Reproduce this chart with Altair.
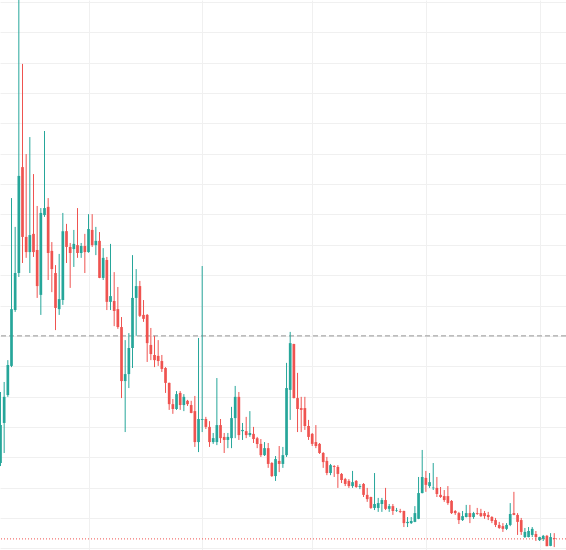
import altair as alt
import pandas as pd

first_day = "2021-04-07"

opens = [2.81, 4.13, 5.05, 6.01, 7.85, 9.07, 12.56, 10.26, 9.76, 10.36,
         9.83, 8.35, 10.98, 11.25, 9.80, 9.07, 7.88, 8.18, 10.45, 9.93,
         9.86, 9.99, 9.73, 9.96, 9.76, 10.49, 9.99, 10.13, 8.91, 9.50,
         8.12, 8.15, 7.88, 7.29, 5.51, 5.74, 6.60, 8.25, 8.64, 7.69,
         7.69, 6.70, 6.37, 6.34, 6.17, 5.94, 5.45, 4.75, 4.59, 5.12,
         4.72, 4.86, 4.72, 4.52, 3.50, 4.23, 4.26, 4.00, 3.50, 3.50,
         4.06, 3.67, 3.57, 3.63, 4.29, 4.99, 3.86, 3.86, 3.73, 3.77,
         3.63, 3.44, 3.07, 3.30, 2.81, 2.38, 2.88, 2.78, 3.07, 5.22,
         6.73, 4.95, 4.62, 4.62, 4.03, 3.77, 3.50, 3.44, 3.14, 2.88,
         2.48, 2.71, 2.68, 2.45, 2.28, 2.22, 2.05, 2.22, 2.02, 2.12,
         1.76, 1.69, 1.33, 1.33, 1.46, 1.59, 1.30, 1.39, 1.23, 1.23,
         1.23, 0.83, 0.83, 0.87, 0.97, 1.82, 2.32, 2.05, 1.98, 1.99,
         1.76, 1.72, 1.72, 1.56, 1.23, 1.16, 0.93, 1.03, 1.16, 1.03,
         1.16, 1.16, 1.16, 1.10, 1.03, 0.93, 0.77, 0.73, 0.64, 0.77,
         1.16, 1.10, 0.93, 0.37, 0.37, 0.44, 0.47, 0.27, 0.31, 0.41,
         0.08, 0.34]

highs = [5.15, 5.48, 6.20, 11.54, 10.59, 18.10, 15.96, 12.99, 13.55, 12.33,
         11.28, 11.21, 13.75, 11.54, 10.09, 9.33, 9.70, 11.05, 10.69, 10.06,
         10.49, 11.21, 10.06, 10.36, 11.01, 11.01, 10.59, 10.42, 9.89, 9.60,
         10.03, 9.10, 8.61, 7.62, 6.86, 7.09, 9.66, 9.20, 8.81, 8.18,
         7.72, 7.26, 7.00, 6.86, 6.37, 5.97, 5.46, 4.92, 5.18, 5.18,
         5.08, 4.89, 4.86, 5.02, 6.93, 9.30, 4.33, 4.19, 3.80, 5.61,
         4.26, 3.80, 3.80, 4.66, 5.35, 5.15, 4.13, 4.33, 4.52, 4.00,
         3.67, 3.60, 3.50, 3.47, 2.84, 3.04, 3.37, 3.34, 6.11, 7.13,
         6.74, 5.78, 4.99, 4.99, 4.23, 3.80, 4.06, 3.47, 3.17, 3.01,
         2.78, 2.74, 2.74, 2.48, 2.32, 2.28, 2.55, 2.25, 2.12, 2.15,
         1.99, 1.70, 2.48, 1.66, 1.66, 1.99, 1.46, 1.46, 1.33, 1.30,
         1.24, 1.03, 1.03, 1.39, 2.35, 3.24, 2.55, 2.48, 2.81, 2.35,
         2.02, 1.92, 2.05, 1.59, 1.26, 1.20, 1.23, 1.43, 1.43, 1.20,
         1.33, 1.30, 1.23, 1.20, 1.06, 1.00, 0.87, 0.83, 0.83, 1.49,
         1.86, 1.16, 1.00, 0.67, 0.70, 0.70, 0.57, 0.38, 0.44, 0.44,
         0.50, 0.50]

lows = [2.71, 3.14, 4.99, 5.97, 7.79, 8.94, 9.40, 9.57, 9.07, 9.60,
        8.25, 7.69, 10.92, 8.84, 8.44, 7.19, 7.69, 8.02, 9.40, 8.58,
        9.27, 9.57, 9.57, 9.07, 9.74, 9.93, 9.66, 8.90, 8.84, 7.85,
        7.85, 7.32, 7.23, 4.95, 3.83, 5.28, 5.94, 7.00, 7.62, 7.46,
        6.14, 6.20, 5.97, 6.01, 5.81, 5.12, 4.56, 4.43, 4.56, 4.56,
        4.52, 4.69, 4.45, 3.34, 3.17, 3.83, 3.93, 3.34, 3.44, 3.40,
        3.47, 3.14, 3.30, 3.30, 3.63, 3.57, 3.57, 3.63, 3.67, 3.47,
        3.30, 3.01, 3.04, 2.65, 2.35, 2.22, 2.51, 2.65, 3.01, 4.23,
        4.94, 3.83, 3.83, 3.90, 3.57, 3.37, 3.30, 3.11, 2.65, 2.41,
        2.41, 2.35, 1.99, 2.15, 2.05, 1.99, 1.99, 1.99, 1.95, 1.69,
        1.53, 1.30, 1.26, 1.20, 1.20, 1.26, 1.20, 1.10, 1.20, 1.16,
        0.70, 0.70, 0.80, 0.86, 0.96, 1.81, 1.86, 1.99, 1.92, 1.69,
        1.66, 1.53, 1.43, 1.13, 1.10, 0.80, 0.90, 1.02, 0.83, 0.97,
        1.10, 1.03, 0.97, 0.93, 0.83, 0.70, 0.64, 0.54, 0.60, 0.73,
        1.09, 0.44, 0.44, 0.34, 0.36, 0.37, 0.24, 0.24, 0.24, 0.07,
        0.07, 0.04]

closes = [4.06, 4.99, 6.04, 7.88, 9.07, 12.27, 10.26, 9.76, 10.32, 9.76,
          8.64, 11.05, 11.21, 9.73, 9.20, 7.92, 8.21, 10.45, 9.93, 9.73,
          10.03, 9.73, 9.96, 9.76, 10.52, 9.99, 10.13, 8.91, 9.57, 8.12,
          8.31, 7.82, 7.29, 5.51, 5.74, 6.60, 8.25, 8.64, 7.66, 7.56,
          6.76, 6.40, 6.20, 6.17, 5.91, 5.45, 4.75, 4.59, 5.08, 4.72,
          4.99, 4.75, 4.46, 3.50, 4.26, 4.26, 4.00, 3.50, 3.63, 4.06,
          3.63, 3.57, 3.67, 4.29, 4.99, 3.73, 3.90, 3.73, 3.80, 3.60,
          3.44, 3.07, 3.30, 2.78, 2.38, 2.94, 2.78, 3.07, 5.28, 6.76,
          4.95, 4.59, 4.56, 4.03, 3.67, 3.44, 3.37, 3.14, 2.84, 2.48,
          2.74, 2.68, 2.45, 2.25, 2.12, 2.05, 2.18, 2.02, 2.05, 1.76,
          1.62, 1.33, 1.46, 1.49, 1.59, 1.30, 1.39, 1.23, 1.25, 1.20,
          0.83, 0.87, 0.90, 1.16, 1.82, 2.35, 2.09, 2.18, 2.00, 1.79,
          1.69, 1.59, 1.49, 1.16, 1.16, 0.93, 1.06, 1.16, 1.03, 1.16,
          1.13, 1.06, 1.06, 1.03, 0.90, 0.77, 0.67, 0.64, 0.77, 1.13,
          1.10, 0.87, 0.54, 0.54, 0.57, 0.64, 0.37, 0.37, 0.41, 0.07,
          0.37, 0.31]

ref_level = [7.0]

assert len(opens) == len(highs) == len(lows) == len(closes) == 152

dates = pd.date_range(first_day, periods=len(opens), freq="D").strftime("%Y-%m-%d")
df = pd.DataFrame({"date": list(dates), "open": opens, "high": highs,
                   "low": lows, "close": closes})
df["dir"] = ["up" if c >= o else "down" for o, c in zip(opens, closes)]

UP = "#26a69a"
DOWN = "#ef5350"
GRID = "#f0f0f0"

x_scale = alt.Scale(
    type="utc",
    padding=0,
    domain=[alt.DateTime(year=2021, month=4, date=6, hours=20, minutes=44, utc=True),
            alt.DateTime(year=2021, month=9, date=8, hours=5, utc=True)],
)
y_scale = alt.Scale(domain=[-0.056, 18.066], nice=False, zero=False, padding=0)

x_axis = alt.Axis(
    values=[alt.DateTime(year=2021, month=m, date=1, utc=True) for m in (5, 6, 7, 8, 9)],
    labels=False, ticks=False, domain=False, title=None,
    grid=True, gridColor=GRID, gridWidth=1,
)
y_axis = alt.Axis(
    values=list(range(0, 19)), labels=False, ticks=False, domain=False,
    title=None, grid=True, gridColor=GRID, gridWidth=1,
)

color = alt.Color("dir:N", scale=alt.Scale(domain=["up", "down"], range=[UP, DOWN]),
                  legend=None)

base = alt.Chart(df).encode(x=alt.X("date:T", scale=x_scale, axis=x_axis), color=color)

wicks = base.mark_rule(strokeWidth=1, clip=True).encode(
    y=alt.Y("low:Q", scale=y_scale, axis=y_axis), y2="high:Q")
bodies = base.mark_bar(size=2.7, clip=True).encode(
    y=alt.Y("open:Q", scale=y_scale, axis=y_axis), y2="close:Q")

level_line = alt.Chart(pd.DataFrame({"level": ref_level})).mark_rule(
    color="#a8a8a8", strokeDash=[5, 3], strokeWidth=1.2
).encode(y=alt.Y("level:Q", scale=y_scale, axis=y_axis))

last_line = alt.Chart(pd.DataFrame({"last": [closes[-1]]})).mark_rule(
    color=DOWN, strokeDash=[1, 2], strokeWidth=1
).encode(y=alt.Y("last:Q", scale=y_scale, axis=y_axis))

chart = alt.layer(level_line, last_line, wicks, bodies).properties(
    width=566, height=550, padding=0,
    autosize=alt.AutoSizeParams(type="none"),
    background="white",
).configure_view(stroke=None)

chart.save("out.html", embed_options={"renderer": "svg", "actions": False})
